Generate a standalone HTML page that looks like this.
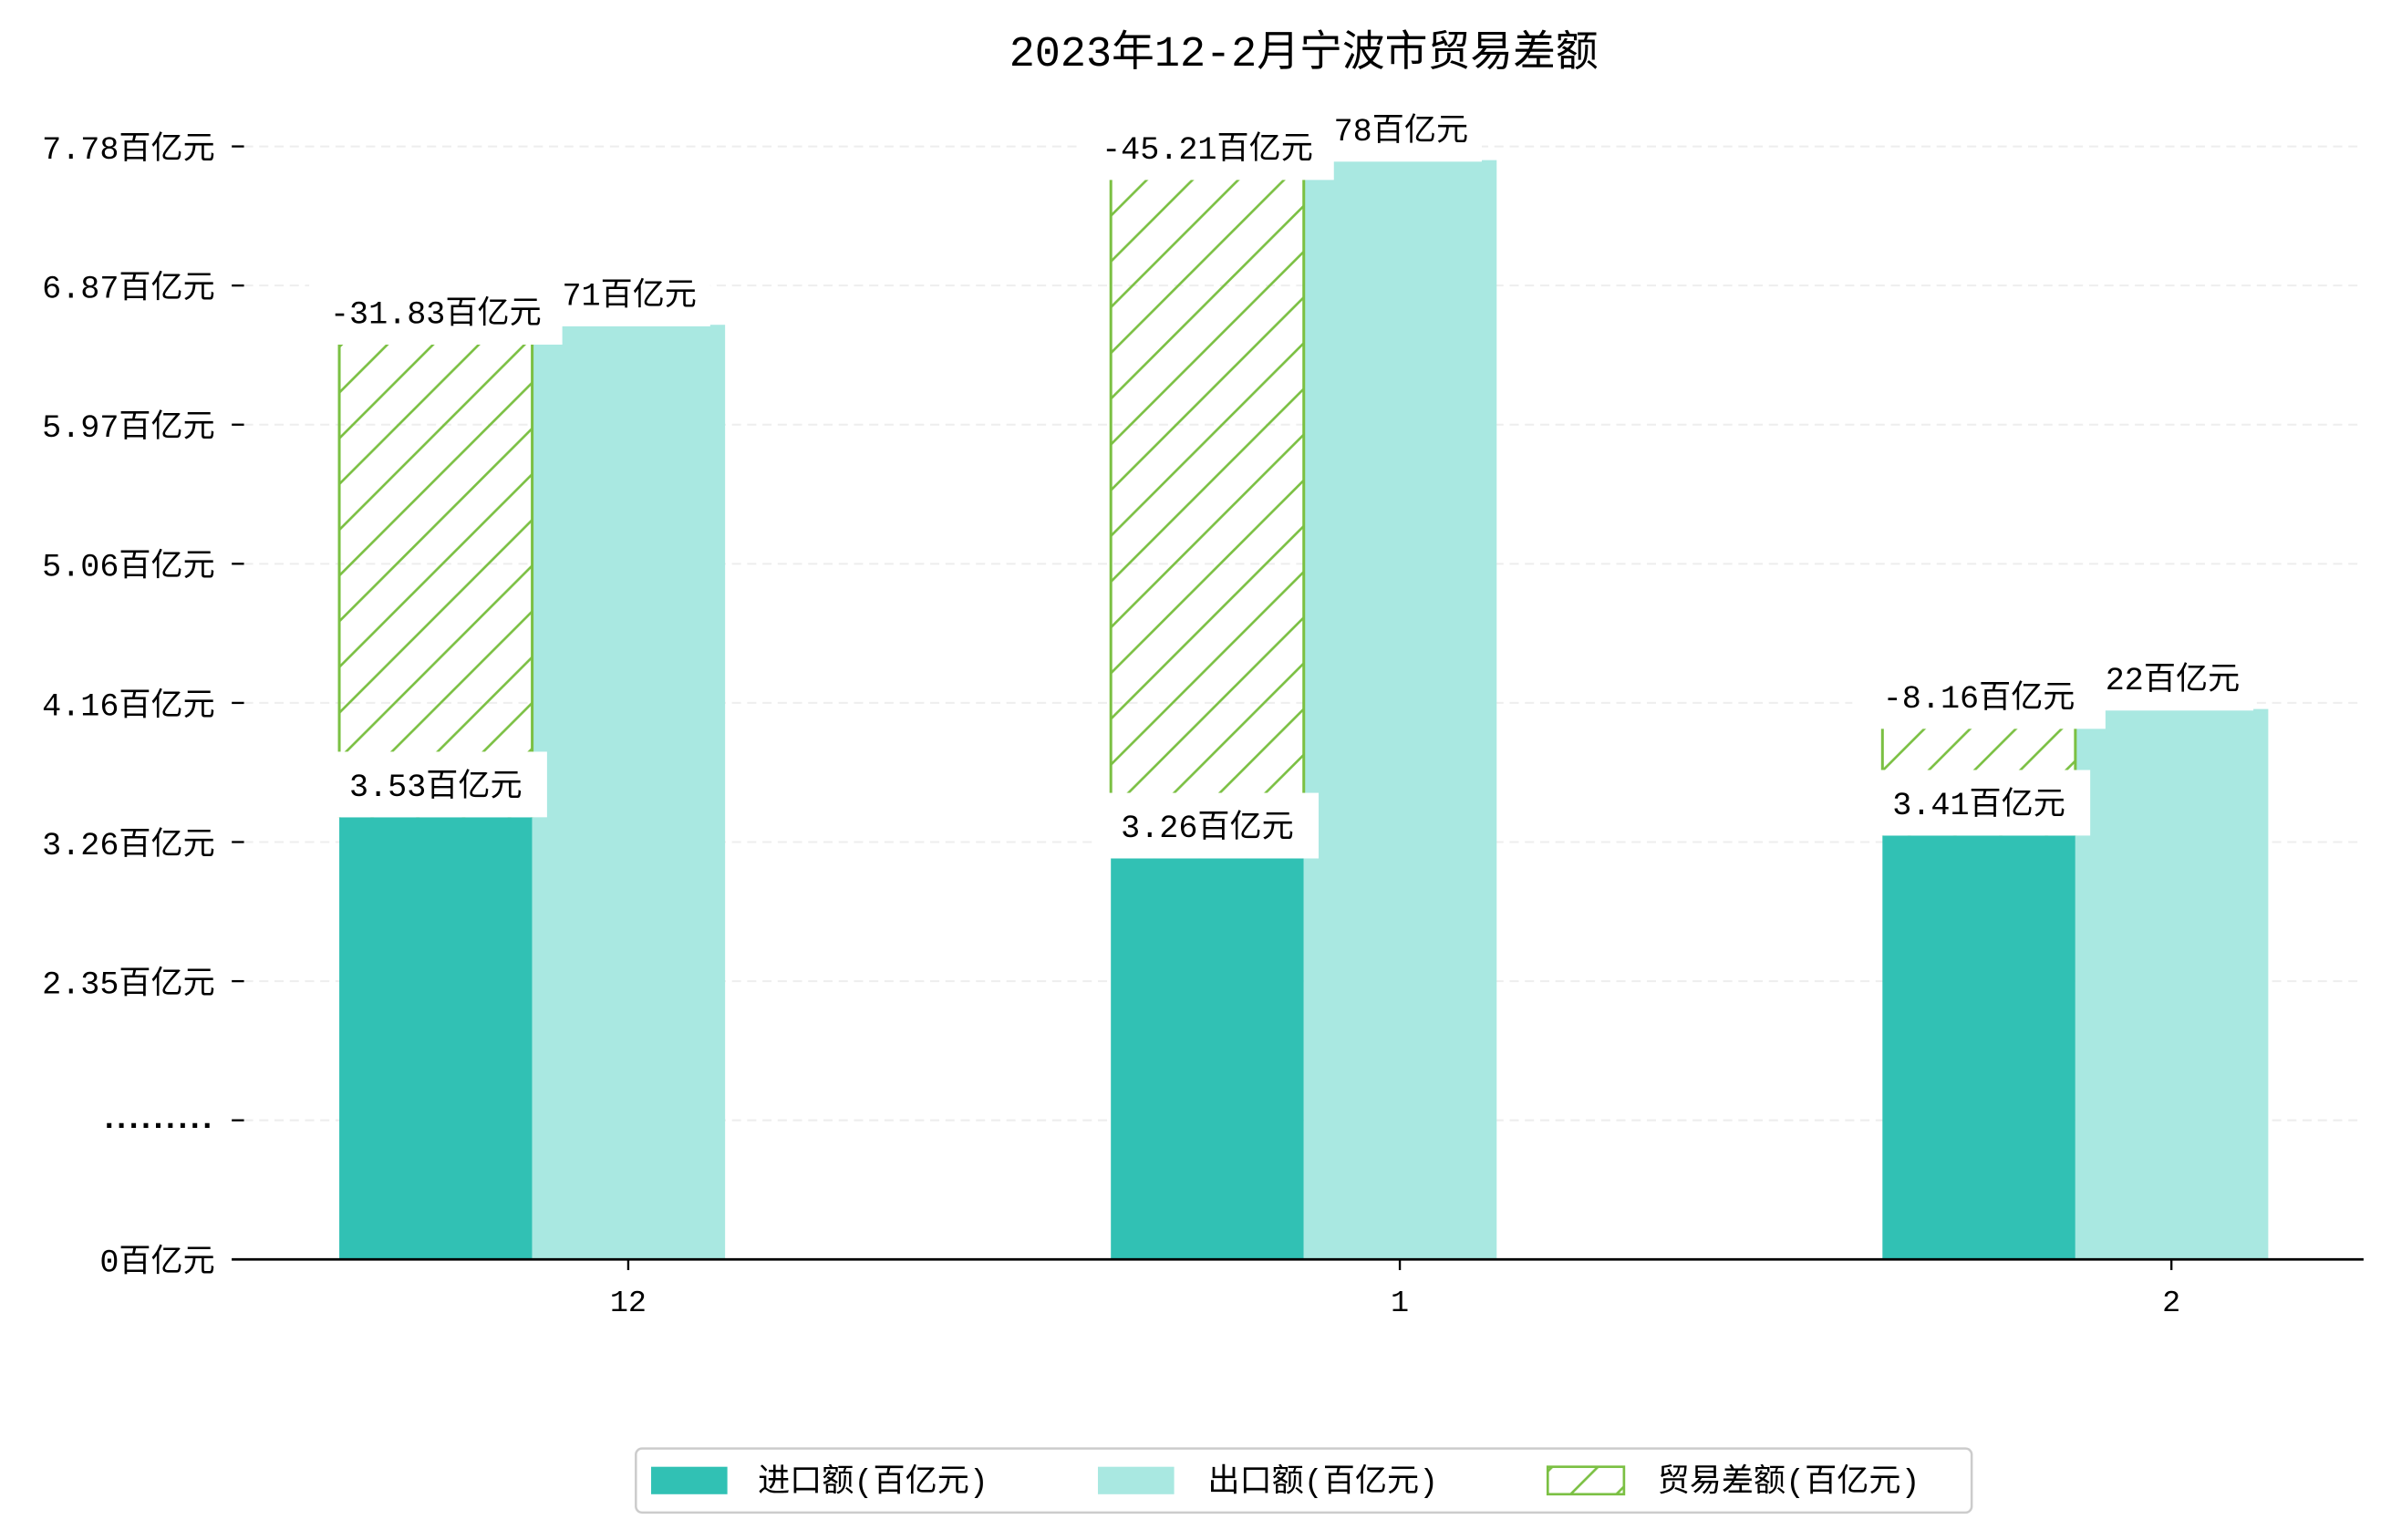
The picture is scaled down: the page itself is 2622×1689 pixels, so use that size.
<!DOCTYPE html>
<html><head><meta charset="utf-8"><style>
html,body{margin:0;padding:0;background:#fff;}
svg{display:block;}
text{font-family:"Liberation Mono","Noto Sans CJK SC","WenQuanYi Zen Hei",monospace;fill:#000;}
</style></head><body>
<svg id="chart" width="2622" height="1689" viewBox="0 0 1568 1010">
<defs>
<pattern id="hatch" patternUnits="userSpaceOnUse" width="30" height="30">
<line x1="-5" y1="35" x2="35" y2="-5" stroke="#7bc043" stroke-width="1.6"/>
<line x1="-35" y1="35" x2="5" y2="-5" stroke="#7bc043" stroke-width="1.6"/>
<line x1="25" y1="35" x2="65" y2="-5" stroke="#7bc043" stroke-width="1.6"/>
</pattern>
</defs>
<text x="855" y="43" font-size="28" text-anchor="middle">2023年12-2月宁波市贸易差额</text>
<g id="grid"></g><g id="bars"></g><g id="labels"></g>
<line x1="152" y1="826" x2="1550" y2="826" stroke="#000" stroke-width="1.6"/>
<g>
<rect x="417" y="950" width="876" height="42" rx="4" fill="#fff" stroke="#ccc" stroke-width="1.5"/>
<rect x="427" y="962" width="50" height="18" fill="#31c1b4"/>
<text x="497" y="978" font-size="21">进口额(百亿元)</text>
<rect x="720" y="962" width="50" height="18" fill="#a9e8e1"/>
<text x="792" y="978" font-size="21">出口额(百亿元)</text>
<rect x="1015" y="962" width="50" height="18" fill="url(#hatch)" stroke="#7bc043" stroke-width="1.6"/>
<text x="1087" y="978" font-size="21">贸易差额(百亿元)</text>
</g>
</svg>
<script>
const categories = ["12", "1", "2"];
const importVals = [3.53, 3.26, 3.41];
const exportVals = [6.76, 7.84, 4.24];
const importLabels = ["3.53百亿元", "3.26百亿元", "3.41百亿元"];
const exportLabels = ["71百亿元", "78百亿元", "22百亿元"];
const balanceLabels = ["-31.83百亿元", "-45.21百亿元", "-8.16百亿元"];
const yTickLabels = ["0百亿元", ".........", "2.35百亿元", "3.26百亿元", "4.16百亿元", "5.06百亿元", "5.97百亿元", "6.87百亿元", "7.78百亿元"];

const NS = "http://www.w3.org/2000/svg";
const axisY = 826;
function yScale(v){ return 889 - 100 * v; }
function xCenter(i){ return 412 + 506 * i; }
function tickY(i){ return 826 - 91.25 * i; }
function mk(tag, attrs, parent){
  const e = document.createElementNS(NS, tag);
  for (const k in attrs) e.setAttribute(k, attrs[k]);
  parent.appendChild(e); return e;
}
const grid = document.getElementById('grid');
const bars = document.getElementById('bars');
const labels = document.getElementById('labels');

yTickLabels.forEach((t, i) => {
  const y = tickY(i);
  if (i > 0) {
    const g = mk('line', {x1:160, x2:1550, y1:y, y2:y, stroke:'#eeeeee', 'stroke-width':1.2, 'stroke-dasharray':'6,4'}, grid);
    
    
  }
  const tk = mk('line', {x1:152, x2:160, y1:y, y2:y, stroke:'#000', 'stroke-width':1.4}, grid);
  
  
  const tx = mk('text', {x:141, y:y+8, 'font-size':21, 'text-anchor':'end'}, grid);
  if (t.startsWith('.')) {
    tx.setAttribute('style', 'font-family:"Liberation Sans",sans-serif;font-weight:bold;letter-spacing:2.2px');
    tx.setAttribute('y', y + 5);
  }
  tx.textContent = t;
  
  
});

function label(text, cx, cy, w){
  const r = mk('rect', {x:cx - w/2, y:cy - 21, width:w, height:43, fill:'#fff'}, labels);
  
  
  const t = mk('text', {x:cx, y:cy + 8, 'font-size':21, 'text-anchor':'middle'}, labels);
  t.textContent = text;
  
  
}

categories.forEach((c, i) => {
  const cx = xCenter(i);
  const bw = 126.5;
  const xi = cx - 189.5, xe = cx - 63;
  const yi = yScale(importVals[i]), ye = yScale(exportVals[i]);
  const b1 = mk('rect', {x:xi, y:yi, width:bw, height:axisY - yi, fill:'#31c1b4'}, bars);
  
  
  const b2 = mk('rect', {x:xe, y:ye, width:bw, height:axisY - ye, fill:'#a9e8e1'}, bars);
  
  
  const b3 = mk('rect', {x:xi, y:ye, width:bw, height:yi - ye, fill:'url(#hatch)'}, bars);
  
  
  const e1 = mk('line', {x1:xi, x2:xi, y1:ye, y2:yi, stroke:'#7bc043', 'stroke-width':1.8}, bars);
  
  
  const e2 = mk('line', {x1:xi+bw, x2:xi+bw, y1:ye, y2:yi, stroke:'#7bc043', 'stroke-width':1.8}, bars);
  
  
  const tk = mk('line', {x1:cx, x2:cx, y1:826, y2:833, stroke:'#000', 'stroke-width':1.4}, bars);
  
  
  const xt = mk('text', {x:cx, y:860, 'font-size':20, 'text-anchor':'middle'}, bars);
  xt.textContent = c;
  
  
  label(importLabels[i], xi + bw/2, yi - 22, 146);
  label(balanceLabels[i], xi + bw/2, ye - 9, 166);
  label(exportLabels[i], xe + bw/2 + 0.5, ye - 21, 106);
});
</script>
</body></html>
